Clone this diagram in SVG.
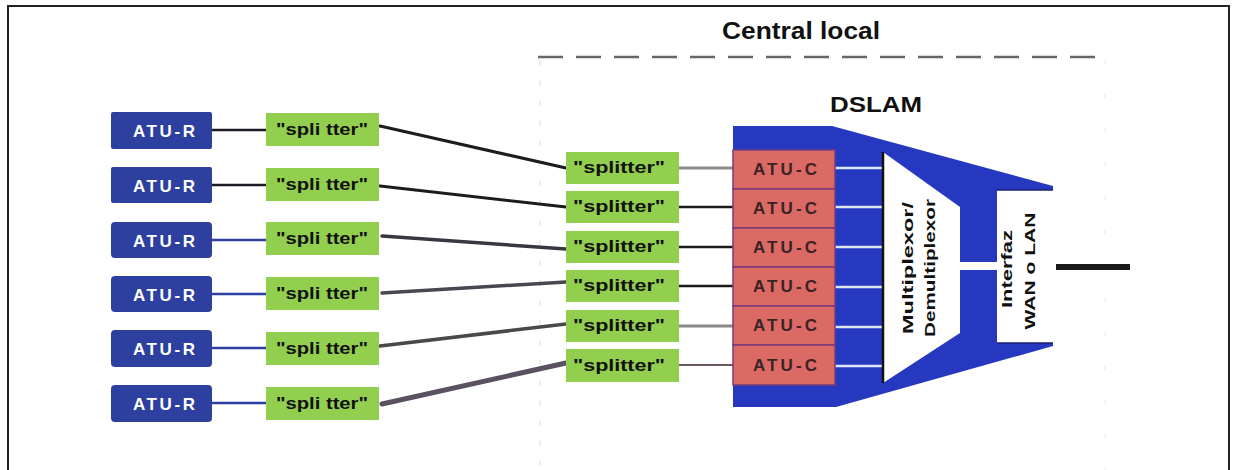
<svg xmlns="http://www.w3.org/2000/svg" width="1233" height="470" viewBox="0 0 1233 470">
  <style>
    .frame { fill: none; stroke: #222; stroke-width: 2; }
    .atur rect { fill: #2d3f9f; }
    .atur text { fill: #ffffff; font-family: "Liberation Sans", Arial, sans-serif; font-weight: bold; font-size: 17px; text-anchor: middle; }
    .spl rect { fill: #93cf4f; }
    .spl text { fill: #111; font-family: "Liberation Sans", Arial, sans-serif; font-weight: bold; font-size: 16px; text-anchor: middle; }
    .atuc rect { fill: #dc6a64; stroke: #7b3a78; stroke-width: 1.5; }
    .atuc text { fill: #3a2326; font-family: "Liberation Sans", Arial, sans-serif; font-weight: bold; font-size: 17px; text-anchor: middle; }
    .title { fill: #111; font-family: "Liberation Sans Narrow", "Liberation Sans", Arial, sans-serif; font-weight: bold; text-anchor: middle; }
    .vlabel { fill: #111; font-family: "Liberation Sans", Arial, sans-serif; font-weight: bold; font-size: 14px; text-anchor: middle; }
    .wire { fill: none; stroke-linecap: round; }
  </style>

  <!-- page frame -->
  <path class="frame" d="M8,470 V6 H1229 V470"/>

  <!-- central office boundary -->
  <g id="central-local">
    <line x1="538" y1="57" x2="1106" y2="57" stroke="#666" stroke-width="2.5" stroke-dasharray="25 13"/>
    <line x1="540" y1="60" x2="540" y2="470" stroke="#ddd" stroke-width="1" stroke-dasharray="6 14"/>
    <line x1="1105" y1="60" x2="1105" y2="470" stroke="#e6e6e6" stroke-width="1" stroke-dasharray="4 30"/>
    <text class="title" x="801" y="39" font-size="24" textLength="158" lengthAdjust="spacingAndGlyphs">Central local</text>
  </g>

  <!-- connectors -->
  <g id="connectors">
    <!-- ATU-R to customer splitter -->
    <line class="wire" x1="212" y1="130" x2="266" y2="130" stroke="#1a1a22" stroke-width="2.5"/>
    <line class="wire" x1="212" y1="185" x2="266" y2="185" stroke="#1a1a22" stroke-width="2.5"/>
    <line class="wire" x1="212" y1="240" x2="266" y2="240" stroke="#2d3f9f" stroke-width="2.5"/>
    <line class="wire" x1="212" y1="294" x2="266" y2="294" stroke="#2d3f9f" stroke-width="2.5"/>
    <line class="wire" x1="212" y1="348" x2="266" y2="348" stroke="#2d3f9f" stroke-width="2.5"/>
    <line class="wire" x1="212" y1="403" x2="266" y2="403" stroke="#2d3f9f" stroke-width="2.5"/>
    <!-- local loop lines -->
    <line class="wire" x1="380" y1="126" x2="566" y2="168" stroke="#1c1c1c" stroke-width="3"/>
    <line class="wire" x1="380" y1="186" x2="566" y2="207" stroke="#1c1c1c" stroke-width="3"/>
    <line class="wire" x1="382" y1="236" x2="566" y2="249" stroke="#3a3540" stroke-width="3.5"/>
    <line class="wire" x1="382" y1="293" x2="566" y2="282" stroke="#4a4550" stroke-width="3.5"/>
    <line class="wire" x1="380" y1="346" x2="566" y2="324" stroke="#4a4848" stroke-width="3.5"/>
    <line class="wire" x1="382" y1="404" x2="566" y2="363" stroke="#5a5262" stroke-width="5"/>
    <!-- office splitter to ATU-C -->
    <line x1="679" y1="168" x2="733" y2="168" stroke="#8a8a8a" stroke-width="3"/>
    <line x1="679" y1="207" x2="733" y2="207" stroke="#1a1a1a" stroke-width="2.5"/>
    <line x1="679" y1="247" x2="733" y2="247" stroke="#1a1a1a" stroke-width="2.5"/>
    <line x1="679" y1="286" x2="733" y2="286" stroke="#1a1a1a" stroke-width="2.5"/>
    <line x1="679" y1="326" x2="733" y2="326" stroke="#8a8a8a" stroke-width="3"/>
    <line x1="679" y1="365" x2="733" y2="365" stroke="#3a2020" stroke-width="1.5"/>
    <!-- uplink -->
    <line x1="1056" y1="267" x2="1130" y2="267" stroke="#1a1a1a" stroke-width="6"/>
  </g>

  <!-- customer modems -->
  <g id="atu-r-1" class="atur"><rect x="111" y="112" width="101" height="37" rx="2"/><text x="164" y="137" textLength="62" lengthAdjust="spacing">ATU-R</text></g>
  <g id="atu-r-2" class="atur"><rect x="111" y="167" width="101" height="36" rx="2"/><text x="164" y="192" textLength="62" lengthAdjust="spacing">ATU-R</text></g>
  <g id="atu-r-3" class="atur"><rect x="111" y="222" width="101" height="36" rx="4"/><text x="164" y="247" textLength="62" lengthAdjust="spacing">ATU-R</text></g>
  <g id="atu-r-4" class="atur"><rect x="111" y="276" width="101" height="36" rx="4"/><text x="164" y="301" textLength="62" lengthAdjust="spacing">ATU-R</text></g>
  <g id="atu-r-5" class="atur"><rect x="111" y="330" width="101" height="37" rx="4"/><text x="164" y="355" textLength="62" lengthAdjust="spacing">ATU-R</text></g>
  <g id="atu-r-6" class="atur"><rect x="111" y="385" width="101" height="37" rx="4"/><text x="164" y="410" textLength="62" lengthAdjust="spacing">ATU-R</text></g>

  <!-- customer splitters -->
  <g id="splitter-r-1" class="spl"><rect x="266" y="113" width="113" height="33"/><text x="322" y="135" textLength="92" lengthAdjust="spacingAndGlyphs">"spli tter"</text></g>
  <g id="splitter-r-2" class="spl"><rect x="266" y="168" width="113" height="33"/><text x="322" y="190" textLength="92" lengthAdjust="spacingAndGlyphs">"spli tter"</text></g>
  <g id="splitter-r-3" class="spl"><rect x="266" y="222" width="113" height="33"/><text x="322" y="244" textLength="92" lengthAdjust="spacingAndGlyphs">"spli tter"</text></g>
  <g id="splitter-r-4" class="spl"><rect x="266" y="277" width="113" height="33"/><text x="322" y="299" textLength="92" lengthAdjust="spacingAndGlyphs">"spli tter"</text></g>
  <g id="splitter-r-5" class="spl"><rect x="266" y="332" width="113" height="33"/><text x="322" y="354" textLength="92" lengthAdjust="spacingAndGlyphs">"spli tter"</text></g>
  <g id="splitter-r-6" class="spl"><rect x="266" y="387" width="113" height="33"/><text x="322" y="409" textLength="92" lengthAdjust="spacingAndGlyphs">"spli tter"</text></g>

  <!-- office splitters -->
  <g id="splitter-c-1" class="spl"><rect x="566" y="152" width="113" height="32"/><text x="619" y="173" textLength="92" lengthAdjust="spacingAndGlyphs">"splitter"</text></g>
  <g id="splitter-c-2" class="spl"><rect x="566" y="191" width="113" height="32"/><text x="619" y="212" textLength="92" lengthAdjust="spacingAndGlyphs">"splitter"</text></g>
  <g id="splitter-c-3" class="spl"><rect x="566" y="231" width="113" height="32"/><text x="619" y="252" textLength="92" lengthAdjust="spacingAndGlyphs">"splitter"</text></g>
  <g id="splitter-c-4" class="spl"><rect x="566" y="270" width="113" height="32"/><text x="619" y="291" textLength="92" lengthAdjust="spacingAndGlyphs">"splitter"</text></g>
  <g id="splitter-c-5" class="spl"><rect x="566" y="310" width="113" height="32"/><text x="619" y="331" textLength="92" lengthAdjust="spacingAndGlyphs">"splitter"</text></g>
  <g id="splitter-c-6" class="spl"><rect x="566" y="349" width="113" height="33"/><text x="619" y="371" textLength="92" lengthAdjust="spacingAndGlyphs">"splitter"</text></g>

  <!-- DSLAM -->
  <g id="dslam">
    <text class="title" x="876" y="112" font-size="22" textLength="92" lengthAdjust="spacingAndGlyphs">DSLAM</text>
    <polygon points="733,126 832,126 1053,186 1053,346 836,407 733,407" fill="#2638c0"/>
    <!-- internal links from line cards -->
    <g stroke="#dfe6ff" stroke-width="2.5">
      <line x1="835" y1="168" x2="883" y2="168"/>
      <line x1="835" y1="207" x2="883" y2="207"/>
      <line x1="835" y1="247" x2="883" y2="247"/>
      <line x1="835" y1="287" x2="883" y2="287"/>
      <line x1="835" y1="327" x2="883" y2="327"/>
      <line x1="835" y1="366" x2="883" y2="366"/>
    </g>
    <!-- mux to interface link -->
    <rect x="960" y="262" width="37" height="8" fill="#ffffff"/>
    <g id="mux">
      <polygon points="883,152 960,207 960,333 883,383" fill="#ffffff"/>
      <line x1="883" y1="152" x2="883" y2="383" stroke="#111" stroke-width="2.5"/>
      <text class="vlabel" transform="translate(913,268) rotate(-90)" textLength="132" lengthAdjust="spacingAndGlyphs">Multiplexor/</text>
      <text class="vlabel" transform="translate(935,268) rotate(-90)" textLength="138" lengthAdjust="spacingAndGlyphs">Demultiplexor</text>
    </g>
    <g id="interfaz">
      <rect x="997" y="190" width="56" height="153" fill="#ffffff"/>
      <line x1="997" y1="190" x2="1053" y2="190" stroke="#1a2070" stroke-width="1.5"/>
      <line x1="997" y1="343" x2="1053" y2="343" stroke="#1a2070" stroke-width="1.5"/>
      <text class="vlabel" transform="translate(1012,269) rotate(-90)" textLength="78" lengthAdjust="spacingAndGlyphs">Interfaz</text>
      <text class="vlabel" transform="translate(1035,271) rotate(-90)" textLength="117" lengthAdjust="spacingAndGlyphs">WAN o LAN</text>
    </g>
  </g>

  <!-- line cards -->
  <g id="atu-c-1" class="atuc"><rect x="733" y="150" width="102" height="39"/><text x="785" y="175" textLength="64" lengthAdjust="spacing">ATU-C</text></g>
  <g id="atu-c-2" class="atuc"><rect x="733" y="189" width="102" height="39"/><text x="785" y="214" textLength="64" lengthAdjust="spacing">ATU-C</text></g>
  <g id="atu-c-3" class="atuc"><rect x="733" y="228" width="102" height="39"/><text x="785" y="253" textLength="64" lengthAdjust="spacing">ATU-C</text></g>
  <g id="atu-c-4" class="atuc"><rect x="733" y="267" width="102" height="39"/><text x="785" y="292" textLength="64" lengthAdjust="spacing">ATU-C</text></g>
  <g id="atu-c-5" class="atuc"><rect x="733" y="306" width="102" height="39"/><text x="785" y="331" textLength="64" lengthAdjust="spacing">ATU-C</text></g>
  <g id="atu-c-6" class="atuc"><rect x="733" y="345" width="102" height="40"/><text x="785" y="371" textLength="64" lengthAdjust="spacing">ATU-C</text></g>
</svg>
